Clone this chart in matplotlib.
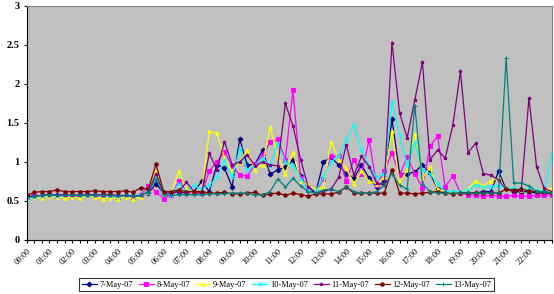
import matplotlib
matplotlib.use("Agg")
import matplotlib.pyplot as plt

# readings every 20 minutes, 00:00 .. 23:00
times = ["%02d:%02d" % (m // 60, m % 60) for m in range(0, 23 * 60 + 1, 20)]
tick_labels = ["%02d:00" % h for h in range(23)]

may07 = [0.55, 0.57, 0.56, 0.58, 0.57, 0.58, 0.57, 0.56, 0.58, 0.57, 0.58, 0.57, 0.56, 0.57, 0.56, 0.57, 0.60,
         0.72, 0.60, 0.60, 0.62, 0.60, 0.62, 0.75, 0.62, 0.96, 0.92, 0.68, 1.29, 0.96, 0.97, 1.15, 0.84, 0.90,
         0.93, 1.02, 0.82, 0.64, 0.61, 1.00, 1.06, 0.96, 0.85, 0.79, 0.96, 0.79, 0.68, 0.75, 1.55, 0.85, 0.85,
         0.87, 0.96, 0.86, 0.65, 0.62, 0.60, 0.60, 0.60, 0.60, 0.62, 0.62, 0.88, 0.65, 0.62, 0.62, 0.62, 0.60,
         0.60, 0.60]
may08 = [0.55, 0.56, 0.56, 0.57, 0.56, 0.57, 0.56, 0.57, 0.56, 0.56, 0.57, 0.56, 0.55, 0.56, 0.55, 0.58, 0.69,
         0.62, 0.53, 0.58, 0.75, 0.62, 0.60, 0.60, 0.88, 1.00, 1.13, 0.95, 0.83, 0.82, 0.97, 1.09, 1.25, 1.29,
         1.03, 1.92, 0.79, 0.68, 0.62, 0.78, 1.07, 1.07, 0.75, 1.03, 0.85, 1.28, 0.70, 0.88, 1.12, 0.83, 1.06,
         0.85, 0.67, 1.20, 1.33, 0.68, 0.82, 0.60, 0.58, 0.57, 0.56, 0.57, 0.56, 0.56, 0.57, 0.56, 0.56, 0.57,
         0.57, 0.58]
may09 = [0.53, 0.55, 0.54, 0.56, 0.55, 0.54, 0.55, 0.54, 0.56, 0.55, 0.53, 0.54, 0.53, 0.55, 0.53, 0.55, 0.62,
         0.88, 0.60, 0.60, 0.88, 0.65, 0.60, 0.62, 1.39, 1.37, 1.05, 0.88, 1.00, 1.15, 0.90, 0.96, 1.45, 1.07,
         0.85, 1.13, 0.75, 0.70, 0.64, 0.68, 1.26, 1.03, 0.92, 0.72, 0.88, 0.75, 0.72, 0.80, 1.40, 0.72, 0.90,
         1.36, 0.79, 0.93, 0.65, 0.62, 0.60, 0.62, 0.65, 0.76, 0.69, 0.76, 0.79, 0.65, 0.65, 0.64, 0.64, 0.63,
         0.65, 0.66]
may10 = [0.52, 0.55, 0.56, 0.57, 0.56, 0.57, 0.58, 0.57, 0.56, 0.57, 0.57, 0.56, 0.56, 0.57, 0.56, 0.58, 0.62,
         0.82, 0.60, 0.58, 0.72, 0.62, 0.70, 0.65, 0.70, 0.80, 1.03, 0.80, 1.17, 0.90, 0.95, 1.05, 0.95, 1.24,
         1.00, 0.95, 0.78, 0.64, 0.63, 0.80, 1.00, 1.08, 1.28, 1.47, 1.15, 0.95, 0.80, 0.85, 1.77, 1.35, 0.95,
         1.25, 0.90, 0.85, 0.72, 0.62, 0.62, 0.62, 0.64, 0.70, 0.68, 0.68, 0.70, 0.66, 0.66, 0.65, 0.65, 0.64,
         0.63, 1.10]
may11 = [0.55, 0.56, 0.57, 0.58, 0.57, 0.58, 0.57, 0.58, 0.57, 0.58, 0.57, 0.58, 0.57, 0.57, 0.56, 0.57, 0.62,
         0.85, 0.60, 0.60, 0.62, 0.74, 0.62, 0.60, 1.11, 0.90, 1.26, 0.96, 1.00, 1.09, 0.95, 1.00, 0.96, 0.95,
         1.75, 1.46, 1.03, 0.68, 0.60, 0.62, 0.65, 0.80, 1.22, 0.83, 1.07, 0.94, 0.73, 0.70, 2.53, 1.63, 1.31,
         1.79, 2.28, 1.03, 1.15, 1.05, 1.47, 2.16, 1.12, 1.24, 0.85, 0.83, 0.77, 0.65, 0.62, 0.64, 1.82, 0.94,
         0.66, 0.62]
may12 = [0.57, 0.61, 0.62, 0.62, 0.64, 0.62, 0.62, 0.62, 0.62, 0.63, 0.62, 0.62, 0.62, 0.63, 0.61, 0.67, 0.65,
         0.97, 0.62, 0.62, 0.64, 0.62, 0.62, 0.62, 0.60, 0.60, 0.61, 0.59, 0.59, 0.60, 0.61, 0.57, 0.59, 0.60,
         0.57, 0.60, 0.58, 0.56, 0.59, 0.59, 0.59, 0.61, 0.68, 0.60, 0.60, 0.60, 0.60, 0.60, 0.90, 0.60, 0.60,
         0.59, 0.60, 0.61, 0.62, 0.60, 0.59, 0.60, 0.60, 0.60, 0.60, 0.60, 0.60, 0.65, 0.64, 0.65, 0.63, 0.62,
         0.62, 0.60]
may13 = [0.54, 0.56, 0.57, 0.58, 0.57, 0.57, 0.57, 0.58, 0.57, 0.57, 0.57, 0.57, 0.56, 0.57, 0.56, 0.57, 0.62,
         0.78, 0.58, 0.57, 0.58, 0.58, 0.58, 0.58, 0.59, 0.59, 0.59, 0.60, 0.60, 0.60, 0.57, 0.58, 0.62, 0.78,
         0.68, 0.79, 0.69, 0.62, 0.60, 0.64, 0.65, 0.62, 0.68, 0.62, 0.60, 0.60, 0.62, 0.70, 0.85, 0.70, 0.65,
         1.72, 0.72, 0.62, 0.60, 0.60, 0.60, 0.60, 0.60, 0.60, 0.60, 0.60, 0.60, 2.33, 0.73, 0.73, 0.69, 0.62,
         0.62, 0.60]

series = [
    ("7-May-07", may07, "#000080", "D"),
    ("8-May-07", may08, "#FF00FF", "s"),
    ("9-May-07", may09, "#FFFF00", "^"),
    ("10-May-07", may10, "#00FFFF", "x"),
    ("11-May-07", may11, "#800080", "*"),
    ("12-May-07", may12, "#800000", "o"),
    ("13-May-07", may13, "#008080", "+"),
]

plt.rcParams["font.family"] = ["Liberation Serif", "DejaVu Serif"]

fig = plt.figure(figsize=(5.54, 2.94), dpi=100)
ax = fig.add_axes([0.048, 0.184, 0.948, 0.796])
ax.set_facecolor("#C0C0C0")

xs = list(range(len(times)))
for name, vals, col, mk in series:
    ax.plot(xs, vals, color=col, lw=0.9, marker=mk, ms=2.5, mew=0.7, label=name)

ax.set_xlim(0, len(times) - 1)
ax.set_ylim(0, 3)
ax.set_yticks([0, 0.5, 1, 1.5, 2, 2.5, 3])
ax.set_yticklabels(["0", "0.5", "1", "1.5", "2", "2.5", "3"], fontsize=7.5, fontweight="bold")
ax.set_xticks(xs)
labels = [t if t in tick_labels else "" for t in times]
ax.set_xticklabels(labels, rotation=45, ha="right", rotation_mode="anchor", fontsize=6)
ax.tick_params(axis="x", length=2, pad=3)
ax.tick_params(axis="y", length=2, pad=3)
for s in ax.spines.values():
    s.set_color("#808080")
ax.spines["bottom"].set_color("black")
ax.spines["left"].set_color("black")

leg = fig.legend(loc="center", bbox_to_anchor=(0.517, 0.032), ncol=7, fontsize=6,
                 frameon=True, fancybox=False, edgecolor="black", handlelength=1.8,
                 handletextpad=0.3, columnspacing=0.7, borderpad=0.3)
leg.get_frame().set_linewidth(0.8)

fig.savefig("out.png", dpi=100)
